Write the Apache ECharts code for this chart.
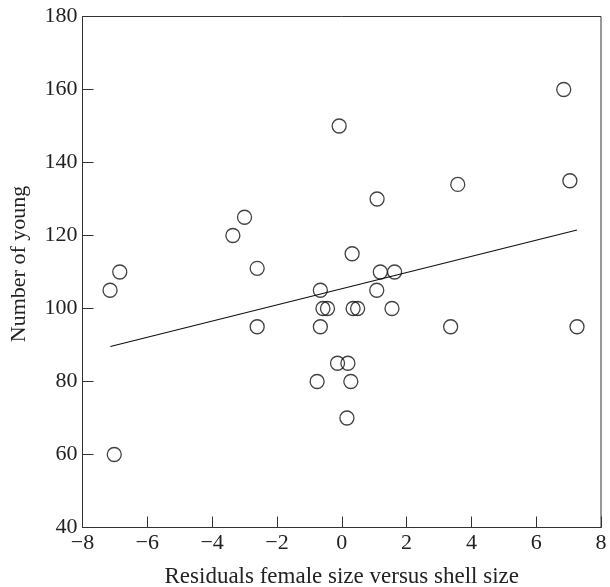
<!DOCTYPE html>
<html><head><meta charset="utf-8">
<script src="https://cdn.jsdelivr.net/npm/echarts@6/dist/echarts.min.js"></script>
<style>html,body{margin:0;padding:0;background:#fff}#c{width:610px;height:587px}</style>
</head><body><div id="c"></div>
<script>
var residuals = [6.85,-0.08,7.04,3.58,1.09,-3.0,-3.36,0.32,-2.61,-6.85,1.19,1.63,-7.15,-0.66,1.08,-0.58,-0.44,0.35,0.49,1.55,-2.61,-0.66,3.36,7.26,-0.13,0.19,-0.76,0.28,0.16,-7.02];
var young = [160,150,135,134,130,125,120,115,111,110,110,110,105,105,105,100,100,100,100,100,95,95,95,95,85,85,80,80,70,60];
var fitX = [-7.14, 7.26];
var fitY = [89.6, 121.5];
var xTicks = [-8,-6,-4,-2,0,2,4,6,8];
var yTicks = [40,60,80,100,120,140,160,180];

var pts = residuals.map(function(x,i){return [x, young[i]];});
var line = fitX.map(function(x,i){return [x, fitY[i]];});
var font = 'Liberation Serif';
var chart = echarts.init(document.getElementById('c'));
chart.setOption({
  animation:false,
  grid:{left:82.5,right:9,top:16.5,bottom:59.5,containLabel:false,outerBoundsMode:'none',show:true,borderColor:'#333',borderWidth:1,backgroundColor:'transparent'},
  xAxis:{type:'value',min:xTicks[0],max:xTicks[xTicks.length-1],interval:2,
    name:'Residuals female size versus shell size',nameLocation:'middle',nameGap:38,
    nameTextStyle:{fontFamily:font,fontSize:23,color:'#222'},
    axisLine:{show:true,onZero:false,lineStyle:{color:'#333',width:1}},
    axisTick:{show:true,inside:true,length:11,lineStyle:{color:'#333'}},
    axisLabel:{fontFamily:font,fontSize:22,color:'#222',margin:5,formatter:function(v){return v<0?'\u2212'+Math.abs(v):String(v);}},
    splitLine:{show:false}},
  yAxis:{type:'value',min:yTicks[0],max:yTicks[yTicks.length-1],interval:20,
    name:'Number of young',nameLocation:'middle',nameGap:52,
    nameTextStyle:{fontFamily:font,fontSize:22,color:'#222',padding:[0,0,0,16]},
    axisLine:{show:true,onZero:false,lineStyle:{color:'#333',width:1}},
    axisTick:{show:true,inside:true,length:11,lineStyle:{color:'#333'}},
    axisLabel:{fontFamily:font,fontSize:22,color:'#222',margin:5},
    splitLine:{show:false}},
  series:[
    {type:'line',data:line,symbol:'none',lineStyle:{color:'#111',width:1.2},z:1},
    {type:'scatter',data:pts,symbol:'circle',symbolSize:14,
     itemStyle:{color:'rgba(255,255,255,0)',borderColor:'#111',borderWidth:1.3},z:2}
  ]
});
</script></body></html>
